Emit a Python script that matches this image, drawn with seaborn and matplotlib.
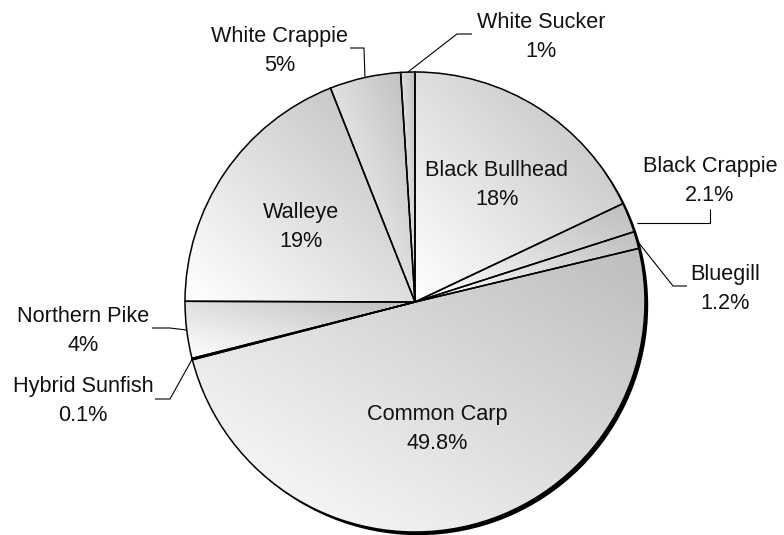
import numpy as np
import matplotlib
matplotlib.use("Agg")
import matplotlib.pyplot as plt
import seaborn as sns
from matplotlib.patches import Circle

# Catch composition by species (percent of total)
species = ["Black Bullhead", "Black Crappie", "Bluegill", "Common Carp",
           "Hybrid Sunfish", "Northern Pike", "Walleye", "White Crappie",
           "White Sucker"]
shares = [18, 2.1, 1.2, 49.8, 0.1, 4, 19, 5, 1]
pct_labels = ["18%", "2.1%", "1.2%", "49.8%", "0.1%", "4%", "19%", "5%", "1%"]

sns.set_theme(style="white")
plt.rcParams["font.family"] = ["Liberation Sans", "DejaVu Sans"]

W, H = 784, 535
fig = plt.figure(figsize=(W / 100, H / 100), dpi=100)
ax = fig.add_axes([0, 0, 1, 1])

cx, cy, R = 415, H - 302, 230

# drop shadow behind the pie
ax.add_patch(Circle((cx + 3.2, cy - 3.2), R, facecolor="black",
                    edgecolor="none", zorder=0))

wedges, _ = ax.pie(shares, startangle=90, counterclock=False,
                   center=(cx, cy), radius=R, frame=True,
                   wedgeprops=dict(facecolor="none", edgecolor="black",
                                   linewidth=1.1, zorder=3))

# diagonal gradient fill per wedge: white at lower-left, gray at upper-right
n = 128
u, v = np.meshgrid(np.linspace(0, 1, n), np.linspace(0, 1, n))
grad = 1.0 - 0.26 * (u + v) / 2
for w in wedges:
    ext = w.get_path().get_extents()
    im = ax.imshow(grad, cmap="gray", vmin=0, vmax=1, origin="lower",
                   extent=[ext.x0, ext.x1, ext.y0, ext.y1],
                   interpolation="bilinear", zorder=2)
    im.set_clip_path(w)

# label placement (x centre, baseline of first line) in pixel rows from top
label_pos = {
    "Black Bullhead": (497, 176),
    "Black Crappie": (710, 172),
    "Bluegill": (725, 280),
    "Common Carp": (437, 420),
    "Hybrid Sunfish": (83, 392),
    "Northern Pike": (83, 322),
    "Walleye": (301, 218),
    "White Crappie": (280, 42),
    "White Sucker": (541, 28),
}
fs = 15.6
for name, pct in zip(species, pct_labels):
    x, b = label_pos[name]
    ax.text(x, H - b, name, ha="center", va="baseline", fontsize=fs,
            color="#111111", zorder=5)
    ax.text(x, H - b - 29, pct, ha="center", va="baseline", fontsize=fs,
            color="#111111", zorder=5)

# leader lines for outside labels: elbow point then rim at wedge mid-angle
leaders = {
    "Black Crappie": [(710, 209), (710, 223), (637, 223)],
    "Bluegill": [(687, 286), (673, 286)],
    "Hybrid Sunfish": [(155, 399), (170, 399)],
    "Northern Pike": [(152, 328), (170, 328)],
    "White Crappie": [(350, 48), (364, 48)],
    "White Sucker": [(472, 34), (457, 34)],
}
for name, pts in leaders.items():
    w = wedges[species.index(name)]
    mid = np.deg2rad((w.theta1 + w.theta2) / 2)
    rim = (cx + R * np.cos(mid), cy + R * np.sin(mid))
    xs = [p[0] for p in pts] + [rim[0]]
    ys = [H - p[1] for p in pts] + [rim[1]]
    if name == "Black Crappie":
        xs, ys = xs[:-1], ys[:-1]
    ax.plot(xs, ys, color="black", linewidth=0.8, zorder=4,
            solid_capstyle="butt")

ax.set_xlim(0, W)
ax.set_ylim(0, H)
ax.set_aspect("equal")
ax.axis("off")
fig.savefig("out.png", dpi=100)
